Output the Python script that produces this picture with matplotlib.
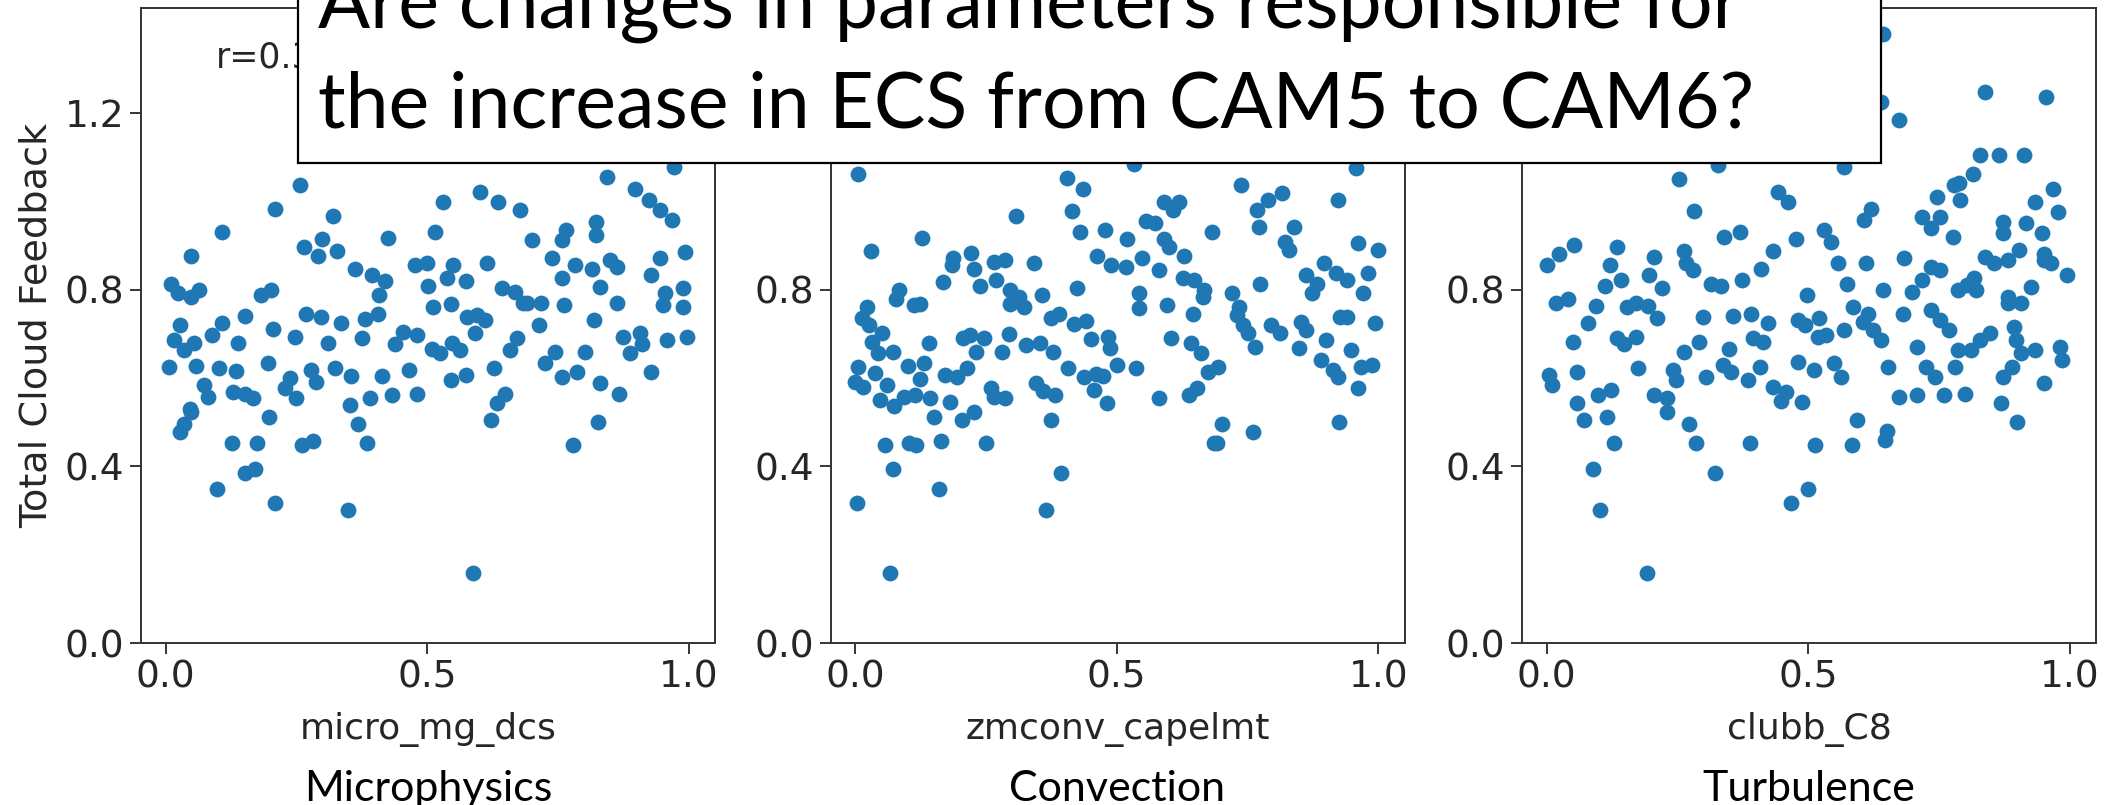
#!/usr/bin/env python3
"""Total cloud feedback vs. perturbed parameter values (PPE), three schemes."""
import matplotlib
matplotlib.use('Agg')
import matplotlib.pyplot as plt
from matplotlib.patches import Rectangle

# Microphysics: micro_mg_dcs
micro_x = [0.256, 0.210, 0.319, 0.108, 0.049, 0.264, 0.299, 0.292, 0.327, 0.426,
           0.515, 0.531, 0.601, 0.635, 0.678, 0.362, 0.395, 0.419, 0.408, 0.477,
           0.499, 0.550, 0.614, 0.502, 0.537, 0.574, 0.011, 0.023, 0.049, 0.063,
           0.183, 0.202, 0.512, 0.546, 0.643, 0.668, 0.684, 0.152, 0.108, 0.089,
           0.028, 0.017, 0.055, 0.036, 0.138, 0.205, 0.247, 0.269, 0.297, 0.336,
           0.311, 0.376, 0.381, 0.405, 0.454, 0.438, 0.480, 0.509, 0.525, 0.547,
           0.563, 0.576, 0.595, 0.611, 0.592, 0.659, 0.671, 0.007, 0.058, 0.103,
           0.135, 0.196, 0.237, 0.277, 0.288, 0.323, 0.354, 0.413, 0.465, 0.546,
           0.574, 0.627, 0.074, 0.081, 0.129, 0.151, 0.167, 0.228, 0.250, 0.352,
           0.390, 0.432, 0.480, 0.649, 0.633, 0.046,
           0.028, 0.036, 0.048, 0.197, 0.126, 0.175, 0.260, 0.282, 0.151, 0.171,
           0.099, 0.210, 0.349, 0.367, 0.385, 0.622, 0.587,
           0.844, 0.897, 0.923, 0.945, 0.971, 0.967, 0.822, 0.822, 0.766, 0.757,
           0.739, 0.700, 0.783, 0.814, 0.849, 0.862, 0.945, 0.993, 0.927, 0.831,
           0.862, 0.954, 0.989, 0.950, 0.989, 0.757, 0.761, 0.717, 0.691, 0.818,
           0.713, 0.744, 0.801, 0.875, 0.906, 0.910, 0.958, 0.997, 0.888, 0.757,
           0.787, 0.831, 0.866, 0.927, 0.726, 0.827, 0.779]
micro_y = [1.037, 0.982, 0.968, 0.930, 0.876, 0.897, 0.914, 0.876, 0.888, 0.918,
           0.931, 0.998, 1.022, 0.998, 0.980, 0.848, 0.833, 0.820, 0.788, 0.856,
           0.860, 0.856, 0.861, 0.808, 0.826, 0.820, 0.814, 0.792, 0.784, 0.799,
           0.788, 0.799, 0.762, 0.768, 0.803, 0.795, 0.769, 0.740, 0.725, 0.697,
           0.720, 0.686, 0.680, 0.663, 0.680, 0.712, 0.692, 0.745, 0.739, 0.724,
           0.680, 0.691, 0.733, 0.746, 0.705, 0.678, 0.697, 0.665, 0.656, 0.680,
           0.663, 0.739, 0.743, 0.731, 0.701, 0.663, 0.690, 0.626, 0.627, 0.622,
           0.616, 0.633, 0.601, 0.618, 0.592, 0.622, 0.605, 0.605, 0.618, 0.595,
           0.607, 0.622, 0.584, 0.558, 0.569, 0.565, 0.554, 0.577, 0.554, 0.539,
           0.554, 0.562, 0.563, 0.565, 0.543, 0.531,
           0.478, 0.497, 0.522, 0.511, 0.454, 0.454, 0.448, 0.458, 0.386, 0.395,
           0.348, 0.316, 0.301, 0.496, 0.454, 0.505, 0.158,
           1.056, 1.029, 1.003, 0.980, 1.078, 0.958, 0.954, 0.924, 0.935, 0.912,
           0.871, 0.912, 0.856, 0.848, 0.867, 0.852, 0.871, 0.886, 0.833, 0.807,
           0.769, 0.792, 0.803, 0.765, 0.762, 0.826, 0.765, 0.769, 0.769, 0.731,
           0.720, 0.660, 0.660, 0.694, 0.701, 0.678, 0.686, 0.694, 0.656, 0.603,
           0.614, 0.588, 0.565, 0.614, 0.633, 0.501, 0.448]

# Convection: zmconv_capelmt
zmconv_x = [0.006, 0.031, 0.128, 0.307, 0.405, 0.435, 0.414, 0.429, 0.478, 0.520,
            0.533, 0.556, 0.573, 0.591, 0.619, 0.607, 0.591, 0.600, 0.629, 0.683,
            0.463, 0.489, 0.517, 0.549, 0.580, 0.626, 0.648, 0.667, 0.664, 0.543,
            0.543, 0.597, 0.646, 0.425, 0.358, 0.188, 0.222, 0.227, 0.185, 0.265,
            0.287, 0.269, 0.239, 0.168, 0.342, 0.297, 0.313, 0.322, 0.297, 0.083,
            0.078, 0.112, 0.124, 0.022, 0.014, 0.026, 0.051, 0.033, 0.044, 0.073,
            0.142, 0.207, 0.220, 0.231, 0.246, 0.281, 0.294, 0.326, 0.354, 0.378,
            0.374, 0.390, 0.418, 0.442, 0.450, 0.484, 0.488, 0.501, 0.536, 0.603,
            0.642, 0.661, 0.674, 0.407, 0.437, 0.460, 0.473, 0.457, 0.482, 0.581,
            0.639, 0.653, 0.006, 0.000, 0.016, 0.038, 0.061, 0.048, 0.102, 0.131,
            0.124, 0.093, 0.115, 0.144, 0.172, 0.195, 0.214, 0.182, 0.259, 0.265,
            0.287, 0.345, 0.359, 0.383,
            0.075, 0.150, 0.204, 0.227, 0.057, 0.103, 0.116, 0.164, 0.250, 0.072,
            0.161, 0.003, 0.067, 0.375, 0.393, 0.365, 0.685,
            0.738, 0.768, 0.790, 0.815, 0.772, 0.821, 0.830, 0.838, 0.958, 0.923,
            0.962, 1.000, 0.896, 0.861, 0.883, 0.919, 0.941, 0.980, 0.971, 0.773,
            0.720, 0.733, 0.874, 0.729, 0.742, 0.751, 0.764, 0.795, 0.813, 0.852,
            0.861, 0.848, 0.900, 0.927, 0.940, 0.993, 0.948, 0.966, 0.988, 0.891,
            0.914, 0.922, 0.962, 0.694, 0.924, 0.701, 0.692, 0.760]
zmconv_y = [1.062, 0.888, 0.918, 0.967, 1.052, 1.029, 0.978, 0.931, 0.935, 0.914,
            1.085, 0.956, 0.952, 0.999, 0.999, 0.980, 0.916, 0.897, 0.876, 0.931,
            0.876, 0.856, 0.851, 0.871, 0.845, 0.826, 0.822, 0.799, 0.784, 0.792,
            0.758, 0.765, 0.745, 0.805, 0.788, 0.871, 0.884, 0.848, 0.856, 0.863,
            0.867, 0.823, 0.808, 0.818, 0.860, 0.799, 0.784, 0.762, 0.768, 0.799,
            0.780, 0.765, 0.768, 0.762, 0.735, 0.720, 0.703, 0.682, 0.656, 0.660,
            0.680, 0.690, 0.697, 0.660, 0.690, 0.660, 0.699, 0.675, 0.679, 0.660,
            0.735, 0.745, 0.722, 0.730, 0.688, 0.694, 0.667, 0.629, 0.622, 0.690,
            0.680, 0.656, 0.614, 0.622, 0.602, 0.609, 0.605, 0.573, 0.543, 0.554,
            0.562, 0.577, 0.626, 0.592, 0.579, 0.612, 0.584, 0.550, 0.627, 0.635,
            0.597, 0.558, 0.562, 0.554, 0.607, 0.603, 0.622, 0.546, 0.577, 0.558,
            0.554, 0.588, 0.571, 0.562,
            0.537, 0.512, 0.505, 0.522, 0.448, 0.454, 0.448, 0.458, 0.454, 0.395,
            0.348, 0.316, 0.158, 0.506, 0.386, 0.301, 0.454,
            1.037, 0.980, 1.003, 1.020, 0.943, 0.909, 0.890, 0.943, 1.075, 1.003,
            0.905, 0.890, 0.860, 0.833, 0.814, 0.837, 0.822, 0.837, 0.792, 0.814,
            0.792, 0.762, 0.792, 0.743, 0.720, 0.701, 0.671, 0.720, 0.701, 0.728,
            0.709, 0.667, 0.686, 0.739, 0.739, 0.724, 0.663, 0.626, 0.629, 0.641,
            0.618, 0.603, 0.577, 0.626, 0.501, 0.496, 0.454, 0.478]

# Turbulence: clubb_C8
clubb_x = [0.642, 0.639, 0.674, 0.569, 0.327, 0.254, 0.281, 0.442, 0.461, 0.620,
           0.607, 0.340, 0.370, 0.432, 0.477, 0.531, 0.544, 0.556, 0.611, 0.683,
           0.000, 0.024, 0.052, 0.135, 0.122, 0.142, 0.112, 0.206, 0.196, 0.220,
           0.262, 0.266, 0.279, 0.314, 0.333, 0.373, 0.409, 0.574, 0.642, 0.498,
           0.018, 0.040, 0.094, 0.080, 0.050, 0.153, 0.171, 0.193, 0.211, 0.134,
           0.148, 0.171, 0.175, 0.298, 0.356, 0.391, 0.423, 0.292, 0.263, 0.349,
           0.394, 0.413, 0.480, 0.493, 0.521, 0.518, 0.534, 0.569, 0.585, 0.614,
           0.604, 0.623, 0.639, 0.681, 0.005, 0.011, 0.059, 0.059, 0.098, 0.123,
           0.241, 0.247, 0.206, 0.230, 0.305, 0.337, 0.353, 0.384, 0.407, 0.432,
           0.457, 0.489, 0.480, 0.512, 0.550, 0.563, 0.652, 0.674,
           0.071, 0.115, 0.129, 0.088, 0.103, 0.231, 0.273, 0.286, 0.321, 0.192,
           0.388, 0.448, 0.513, 0.500, 0.468, 0.583, 0.593, 0.646, 0.651,
           0.838, 0.955, 0.829, 0.864, 0.912, 0.814, 0.788, 0.779, 0.790, 0.968,
           0.933, 0.977, 0.747, 0.717, 0.751, 0.734, 0.777, 0.873, 0.873, 0.916,
           0.946, 0.950, 0.950, 0.964, 0.994, 0.838, 0.855, 0.881, 0.903, 0.734,
           0.751, 0.816, 0.804, 0.786, 0.821, 0.699, 0.717, 0.925, 0.881, 0.907,
           0.881, 0.734, 0.751, 0.769, 0.786, 0.780, 0.812, 0.829, 0.847, 0.894,
           0.898, 0.907, 0.933, 0.981, 0.985, 0.950, 0.890, 0.873, 0.708, 0.725,
           0.743, 0.868, 0.899, 0.799, 0.708, 0.760]
clubb_y = [1.380, 1.226, 1.184, 1.078, 1.082, 1.050, 0.979, 1.022, 0.999, 0.982,
           0.958, 0.920, 0.931, 0.888, 0.914, 0.935, 0.909, 0.860, 0.860, 0.871,
           0.856, 0.882, 0.901, 0.897, 0.856, 0.822, 0.808, 0.873, 0.833, 0.805,
           0.888, 0.860, 0.845, 0.813, 0.808, 0.823, 0.846, 0.814, 0.799, 0.788,
           0.769, 0.780, 0.763, 0.724, 0.682, 0.762, 0.771, 0.763, 0.735, 0.690,
           0.678, 0.694, 0.622, 0.739, 0.740, 0.746, 0.725, 0.682, 0.660, 0.665,
           0.690, 0.682, 0.731, 0.720, 0.735, 0.694, 0.697, 0.709, 0.762, 0.746,
           0.728, 0.709, 0.686, 0.746, 0.607, 0.584, 0.614, 0.543, 0.562, 0.573,
           0.618, 0.595, 0.562, 0.554, 0.603, 0.629, 0.614, 0.595, 0.626, 0.580,
           0.569, 0.546, 0.637, 0.618, 0.633, 0.603, 0.626, 0.558,
           0.506, 0.512, 0.454, 0.395, 0.301, 0.522, 0.496, 0.454, 0.386, 0.158,
           0.454, 0.548, 0.448, 0.348, 0.316, 0.448, 0.506, 0.460, 0.481,
           1.248, 1.237, 1.105, 1.105, 1.105, 1.063, 1.041, 1.037, 1.003, 1.029,
           0.999, 0.977, 1.011, 0.965, 0.965, 0.939, 0.920, 0.954, 0.928, 0.950,
           0.928, 0.882, 0.867, 0.860, 0.833, 0.875, 0.860, 0.867, 0.890, 0.852,
           0.845, 0.826, 0.811, 0.799, 0.799, 0.795, 0.822, 0.807, 0.784, 0.769,
           0.769, 0.754, 0.731, 0.709, 0.663, 0.626, 0.663, 0.686, 0.701, 0.716,
           0.686, 0.656, 0.663, 0.671, 0.641, 0.588, 0.626, 0.603, 0.671, 0.626,
           0.603, 0.543, 0.501, 0.565, 0.562, 0.562]

param_names = ['micro_mg_dcs', 'zmconv_capelmt', 'clubb_C8']
schemes = ['Microphysics', 'Convection', 'Turbulence']
corr_labels = ['r=0.35', 'r=0.39', 'r=0.24']
xticks = [0.0, 0.5, 1.0]
yticks = [0.0, 0.4, 0.8, 1.2]
title_lines = ['Are changes in parameters responsible for',
               'the increase in ECS from CAM5 to CAM6?']

W, H = 2114, 805
plt.rcParams['font.family'] = 'DejaVu Sans'
fig = plt.figure(figsize=(W / 100, H / 100), dpi=100)

# axes boxes in pixels
lefts = [141, 830.5, 1522]
width = 574
bottom_px, top_px = 643, 8

datasets = [(micro_x, micro_y), (zmconv_x, zmconv_y), (clubb_x, clubb_y)]
txt_color = '#262626'

for i, (xs, ys) in enumerate(datasets):
    ax = fig.add_axes([lefts[i] / W, (H - bottom_px) / H,
                       width / W, (bottom_px - top_px) / H])
    ax.scatter(xs, ys, s=130, color='#1f77b4', linewidths=0)
    ax.set_xlim(-0.047, 1.05)
    ax.set_ylim(0, 1.438)
    ax.set_xticks(xticks)
    ax.set_xticklabels([f'{t:.1f}' for t in xticks])
    ax.set_yticks(yticks)
    ax.set_yticklabels([f'{t:.1f}' for t in yticks])
    ax.tick_params(labelsize=27, length=8, width=1.3, pad=4,
                   colors=txt_color)
    for sp in ax.spines.values():
        sp.set_color('#333333')
        sp.set_linewidth(1.4)
    ax.set_xlabel(param_names[i], fontsize=26, color=txt_color, labelpad=12)
    ax.text(0.13, 0.907, corr_labels[i], transform=ax.transAxes,
            fontsize=25, color=txt_color, va='baseline')
    if i == 0:
        ax.set_ylabel('Total Cloud Feedback', fontsize=27.5, color=txt_color,
                      labelpad=7)
    # scheme name under each panel
    fig.text((lefts[i] + width / 2) / W, (H - 801) / H, schemes[i],
             fontsize=31, family='Lato', ha='center', va='baseline',
             color='black')

# question box over the top of the panels
box = Rectangle((297.5 / W, (H - 163.3) / H), (1881 - 297.5) / W, 0.3,
                transform=fig.transFigure, facecolor='white',
                edgecolor='black', linewidth=1.6, zorder=5)
fig.patches.append(box)
fig.text(318 / W, (H - 28) / H, title_lines[0], fontsize=55.5, family='Lato',
         ha='left', va='baseline', zorder=6)
fig.text(318 / W, (H - 128) / H, title_lines[1], fontsize=55.5, family='Lato',
         ha='left', va='baseline', zorder=6)

fig.savefig('out.png', dpi=100)
